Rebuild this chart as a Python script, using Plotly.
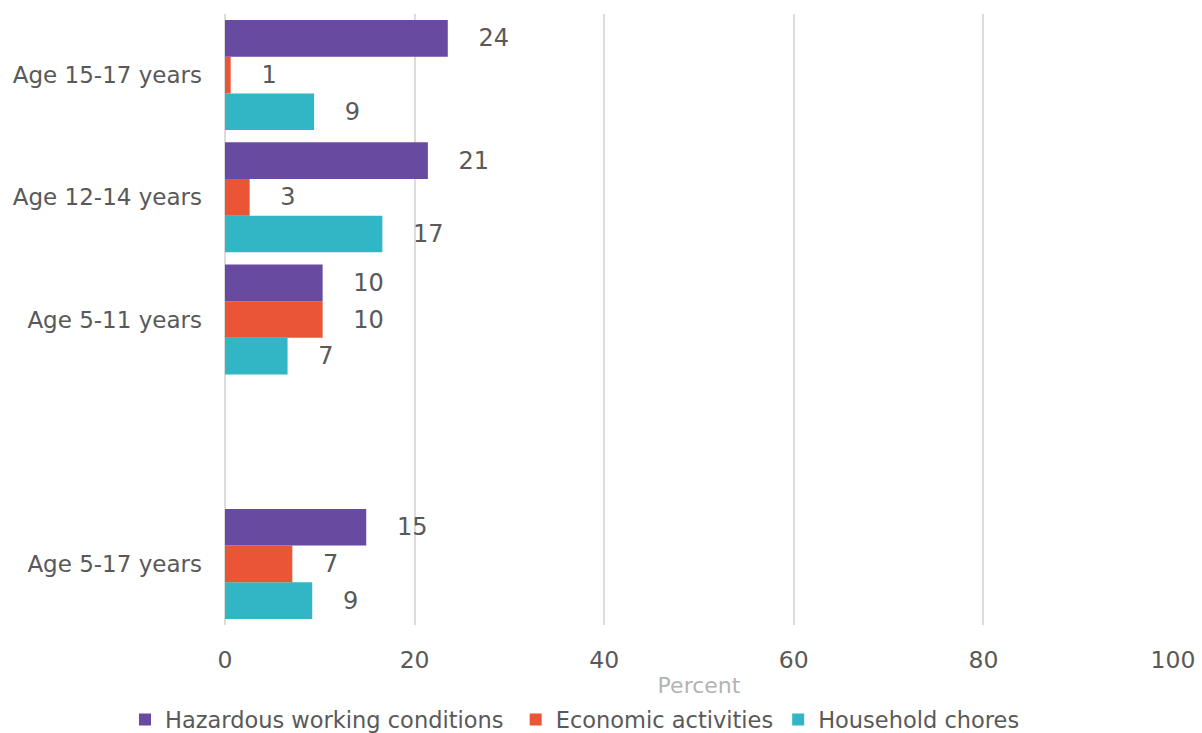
import plotly.graph_objects as go

categories = ["Age 5-17 years", " ", "Age 5-11 years", "Age 12-14 years", "Age 15-17 years"]
groups = ["Age 15-17 years", "Age 12-14 years", "Age 5-11 years", "Age 5-17 years"]
hazardous = [23.5, 21.4, 10.3, 14.9]
economic = [0.6, 2.6, 10.3, 7.1]
household = [9.4, 16.6, 6.6, 9.2]
x_ticks = [0, 20, 40, 60, 80, 100]

names = ["Hazardous working conditions", "Economic activities", "Household chores"]
colors = ["#684aa0", "#ea5535", "#31b6c6"]
series = [hazardous, economic, household]

FONT = "DejaVu Sans"
TXT = "#595959"
pad = "\u00a0\u00a0\u00a0\u2009"

fig = go.Figure()
# add in reverse so the first series sits at the top of each group
for i, (name, color, vals) in reversed(list(enumerate(zip(names, colors, series)))):
    label = name + ("\u00a0" if i == 0 else "")
    fig.add_trace(go.Bar(
        y=groups, x=vals, orientation="h", name=label,
        marker=dict(color=color, line=dict(width=0)),
        texttemplate=pad + "%{x:.0f}", textposition="outside",
        textfont=dict(family=FONT, size=24, color=TXT),
        cliponaxis=False,
    ))

fig.update_layout(
    width=1202, height=733,
    margin=dict(l=225, r=29, t=14, b=108, autoexpand=False),
    paper_bgcolor="white", plot_bgcolor="white",
    barmode="group", bargap=0.1, bargroupgap=0,
    font=dict(family=FONT, size=23, color=TXT),
    legend=dict(
        orientation="h", traceorder="reversed",
        xref="container", yref="container",
        x=0.104, xanchor="left", y=0.018, yanchor="middle",
        font=dict(family=FONT, size=22.5, color=TXT),
        itemwidth=30,
    ),
    xaxis=dict(
        range=[0, 100], tickvals=x_ticks, automargin=False,
        showgrid=True, gridcolor="#dcdcdc", gridwidth=2,
        zeroline=True, zerolinecolor="#dcdcdc", zerolinewidth=2,
        showline=False, ticks="", ticklabelstandoff=18,
        tickfont=dict(family=FONT, size=23.5, color=TXT),
        title=dict(text="Percent", standoff=6,
                   font=dict(family=FONT, size=22, color="#b3b3b3")),
    ),
    yaxis=dict(
        categoryorder="array", categoryarray=categories, automargin=False,
        range=[-0.5, 4.5], showgrid=False, zeroline=False, showline=False,
        ticks="", ticklabelstandoff=22,
        tickfont=dict(family=FONT, size=23, color=TXT),
    ),
    showlegend=True,
)

fig.write_html("out.html")
